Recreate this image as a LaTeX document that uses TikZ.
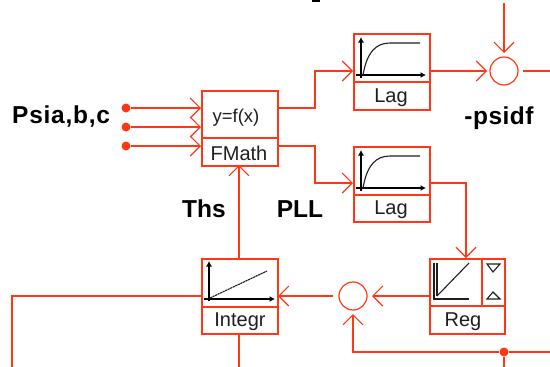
\documentclass[tikz,border=0pt]{standalone}
\usepackage{fontspec}
\setmainfont{Liberation Sans}
\usetikzlibrary{arrows.meta}
\definecolor{wire}{RGB}{255,55,20}
\definecolor{ink}{RGB}{30,30,30}
\tikzset{
  x=1pt,y=-1pt,
  wireline/.style={draw=wire,line width=1.4pt},
  arrowline/.style={wireline,-{Straight Barb[length=10pt,width=20pt,line width=1.1pt]}},
  blockbox/.style={draw=wire,line width=1.5pt,minimum width=76pt,inner sep=0pt,anchor=north west},
  caption/.style={font=\fontsize{20}{21}\selectfont,text=ink,inner sep=0pt,anchor=base},
  biglabel/.style={font=\fontsize{24.5}{25}\selectfont\bfseries,text=black,inner sep=0pt,anchor=base},
  sumcircle/.style={draw=wire,line width=1.2pt,circle,minimum size=28pt,inner sep=0pt},
  terminal/.style={fill=wire,circle,minimum size=9pt,inner sep=0pt},
  axisline/.style={draw=black,line width=1.3pt,-{Latex[length=5.5pt,width=6pt]}},
  curveline/.style={draw=ink,line width=1.1pt}
}
\begin{document}
\begin{tikzpicture}
\useasboundingbox (0,0) rectangle (550,367);
\fill[black] (312,0) rectangle (320,1.5);
% blocks
\node[blockbox,minimum height=75pt] (fm) at (201,90) {};
\node[blockbox,minimum height=76pt] (l1) at (353,33) {};
\node[blockbox,minimum height=75pt] (l2) at (353,146) {};
\node[blockbox,minimum height=75pt,minimum width=75pt] (reg) at (429,258) {};
\node[blockbox,minimum height=75pt] (int) at (201,258) {};
\draw[wireline] (201,138) -- (277,138);
\draw[wireline] (353,82) -- (429,82);
\draw[wireline] (353,195) -- (429,195);
\draw[wireline] (429,306) -- (504,306);
\draw[wireline] (482,258) -- (482,306);
\draw[wireline] (201,307) -- (277,307);
% captions
\node[caption] (t1) at (239,160) {FMath};
\node[caption,font=\fontsize{18.5}{19}\selectfont] (t0) at (236,122) {y=f(x)};
\node[caption] (t2) at (391,102) {Lag};
\node[caption] (t3) at (391,214) {Lag};
\node[caption] (t4) at (463,326) {Reg};
\node[caption] (t5) at (240,326) {Integr};
\node[biglabel,anchor=base west] (p1) at (12,123) {\addfontfeature{LetterSpace=3}Psia,b,c};
\node[biglabel] (p2) at (499,124) {\addfontfeature{LetterSpace=2}-psidf};
\node[biglabel] (p3) at (204,217) {Ths};
\node[biglabel] (p4) at (300,217) {PLL};
% sums
\node[sumcircle] (s1) at (504,71) {};
\node[sumcircle] (s2) at (353,296) {};
% terminals and junction
\node[terminal] (a) at (126,108) {};
\node[terminal] (b) at (126,127) {};
\node[terminal] (c) at (126,146) {};
\node[terminal] (j) at (504,352) {};
\coordinate (top) at (504,3);
\coordinate (r1) at (550,71);
\coordinate (r2) at (550,352);
\coordinate (d1) at (504,367);
\coordinate (d2) at (239,367);
\coordinate (d3) at (12,367);
% wires
\draw[arrowline] (a) -- (201,108);
\draw[arrowline] (b) -- (201,127);
\draw[arrowline] (c) -- (201,146);
\draw[arrowline] (277,108) -- (315,108) -- (315,71) -- (353,71);
\draw[arrowline] (277,146) -- (315,146) -- (315,183) -- (353,183);
\draw[arrowline] (429,71) -- (487,71);
\draw[arrowline] (top) -- (504,53);
\draw[wireline] (523,71) -- (r1);
\draw[arrowline] (429,183) -- (466,183) -- (466,258);
\draw[arrowline] (429,296) -- (372,296);
\draw[arrowline] (333,296) -- (278,296);
\draw[arrowline] (j) -- (353,352) -- (353,314);
\draw[wireline] (j) -- (r2);
\draw[wireline] (j) -- (d1);
\draw[arrowline] (239,258) -- (239,165);
\draw[wireline] (239,333) -- (d2);
\draw[wireline] (201,296) -- (12,296) -- (d3);
% plots
\foreach \yy in {0,113}{
  \begin{scope}[yshift=-\yy pt]
  \draw[axisline] (361,78) -- (361,37);
  \draw[axisline] (356,75) -- (426,75);
  \draw[curveline] (363,75) .. controls (367,52) and (376,43) .. (390,43) -- (420,43);
  \end{scope}
}
\draw[axisline] (209,301) -- (209,261);
\draw[axisline] (204,299) -- (275,299);
\draw[curveline,dash pattern=on 2.2pt off 0.6pt] (210,298) -- (267,271);
\draw[curveline] (434,263) -- (434,299) -- (469,299);
\draw[curveline] (437,263) -- (437,296);
\draw[curveline] (437,296) -- (469,263);
\draw[curveline,line join=miter] (487,264) -- (500,264) -- (493,272) -- cycle;
\draw[curveline,line join=miter] (487,299) -- (500,299) -- (493,292) -- cycle;
\end{tikzpicture}
\end{document}
